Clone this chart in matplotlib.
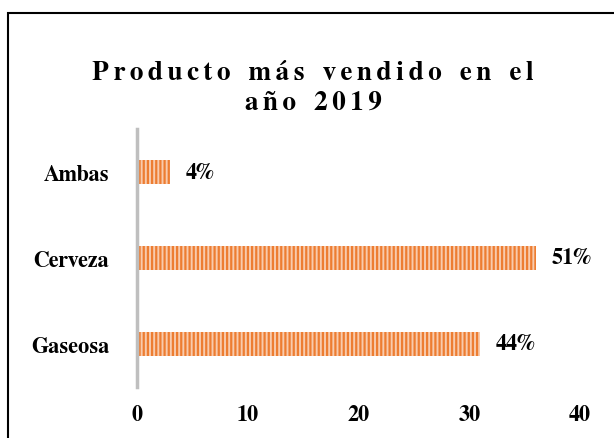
import matplotlib.pyplot as plt
from matplotlib.patches import Rectangle

categories = ['Gaseosa', 'Cerveza', 'Ambas']
values = [31, 36, 3]
labels = ['44%', '51%', '4%']
xticks = [0, 10, 20, 30, 40]
title_lines = ['Producto más vendido en el', 'año 2019']

plt.rcParams['font.family'] = ['FreeSerif', 'Liberation Serif', 'DejaVu Serif']
plt.rcParams['font.weight'] = 'bold'
plt.rcParams['hatch.linewidth'] = 1.6

fig = plt.figure(figsize=(6.14, 4.39), dpi=100)
W, H = 614, 439
ax = fig.add_axes([137 / W, 1 - 388 / H, (580 - 137) / W, (388 - 130) / H])

ax.barh(range(len(categories)), values, height=0.29, color='#F8CBAD',
        edgecolor='#ED7D31', hatch='||||', linewidth=0)
for i, (v, lab) in enumerate(zip(values, labels)):
    ax.text(v + 1.4, i, lab, va='center', ha='left', fontsize=16, fontweight='bold')

ax.set_xlim(0, 40)
ax.set_ylim(-0.5, 2.5)
ax.set_yticks(range(len(categories)))
ax.set_yticklabels(categories, fontsize=16, fontweight='bold')
ax.set_xticks(xticks)
ax.set_xticklabels([str(t) for t in xticks], fontsize=16, fontweight='bold')
ax.tick_params(length=0)
ax.tick_params(axis='y', pad=20)
ax.tick_params(axis='x', pad=12)
for s in ['top', 'right', 'bottom']:
    ax.spines[s].set_visible(False)
ax.spines['left'].set_color('#BFBFBF')
ax.spines['left'].set_linewidth(2.5)

# letter-spaced title, like the spreadsheet chart
sp = '\u2009'
gap = '\u2002\u2009'
title = '\n'.join(gap.join(sp.join(w) for w in line.split(' ')) for line in title_lines)
fig.text(0.51, 1 - 88 / H, title, ha='center', va='center', fontsize=19.5,
         fontweight='bold', linespacing=1.25)

# chart border
fig.patches.append(Rectangle((8 / W, -0.1), 1.2, 1 - 14 / H + 0.1,
                             transform=fig.transFigure, fill=False,
                             edgecolor='black', linewidth=1.5))

fig.savefig('out.png', dpi=100)
